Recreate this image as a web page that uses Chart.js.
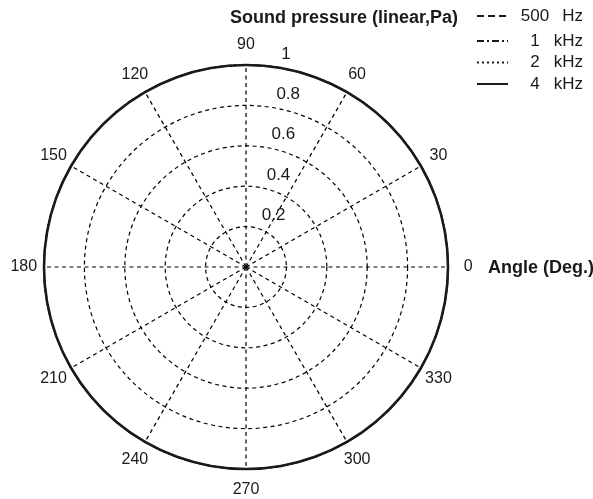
<!DOCTYPE html>
<html>
<head>
<meta charset="utf-8">
<title>Polar pattern</title>
<script src="https://cdn.jsdelivr.net/npm/chart.js@4.4.1/dist/chart.umd.min.js"></script>
<style>
  html, body { margin: 0; padding: 0; background: #fff; }
  #wrap { width: 593px; height: 499px; }
</style>
</head>
<body>
<div id="wrap"><canvas id="polarChart"></canvas></div>
<script>
// measurement angles, degrees counter-clockwise from 0
const angles = [0, 10, 20, 30, 40, 50, 60, 70, 80, 90, 100, 110,
                120, 130, 140, 150, 160, 170, 180, 190, 200, 210, 220, 230,
                240, 250, 260, 270, 280, 290, 300, 310, 320, 330, 340, 350];

// normalised sound pressure at each angle
const p500 = [1, 1, 1, 1, 1, 1, 1, 1, 1, 1, 1, 1, 1, 1, 1, 1, 1, 1,
              1, 1, 1, 1, 1, 1, 1, 1, 1, 1, 1, 1, 1, 1, 1, 1, 1, 1];
const p1k  = [1, 1, 1, 1, 1, 1, 1, 1, 1, 1, 1, 1, 1, 1, 1, 1, 1, 1,
              1, 1, 1, 1, 1, 1, 1, 1, 1, 1, 1, 1, 1, 1, 1, 1, 1, 1];
const p2k  = [1, 1, 1, 1, 1, 1, 1, 1, 1, 1, 1, 1, 1, 1, 1, 1, 1, 1,
              1, 1, 1, 1, 1, 1, 1, 1, 1, 1, 1, 1, 1, 1, 1, 1, 1, 1];
const p4k  = [1, 1, 1, 1, 1, 1, 1, 1, 1, 1, 1, 1, 1, 1, 1, 1, 1, 1,
              1, 1, 1, 1, 1, 1, 1, 1, 1, 1, 1, 1, 1, 1, 1, 1, 1, 1];

const angleTicks = [0, 30, 60, 90, 120, 150, 180, 210, 240, 270, 300, 330];
const radialTicks = [0.2, 0.4, 0.6, 0.8, 1];
const seriesLabels = ['500 Hz', '1 kHz', '2 kHz', '4 kHz'];

const INK = '#1a1a1a';
const FONT = '"Liberation Sans", Arial, sans-serif';

// line style per series: dashed, dash-dot, dotted, solid
const lineStyles = [
    { dash: [7, 4], width: 1.5 },
    { dash: [7, 3, 2, 3], width: 1.5 },
    { dash: [2, 3], width: 1.5 },
    { dash: [], width: 2.6 }
];

// radar scale runs clockwise from its start angle, so flip the order
const clockwise = arr => [arr[0], ...arr.slice(1).reverse()];
const labels = clockwise(angles);

const series = [p500, p1k, p2k, p4k];

const datasets = series.map((values, i) => ({
    label: seriesLabels[i],
    data: clockwise(values),
    borderColor: INK,
    borderWidth: lineStyles[i].width,
    borderDash: lineStyles[i].dash,
    fill: false,
    pointRadius: 0,
    tension: 0.335,
    clip: false,
    order: i === 3 ? 0 : 1
}));

// angle labels, radius labels, axis titles and the legend
const polarText = {
    id: 'polarText',
    afterDraw(chart) {
        const s = chart.scales.r;
        const ctx = chart.ctx;
        ctx.save();
        ctx.fillStyle = INK;

        ctx.font = '16px ' + FONT;
        ctx.textAlign = 'center';
        ctx.textBaseline = 'middle';
        const outer = s.getDistanceFromCenterForValue(1.1);
        angleTicks.forEach(a => {
            const p = s.getPointPosition(labels.indexOf(a), outer);
            ctx.fillText(String(a), p.x, p.y);
        });

        ctx.font = '17px ' + FONT;
        ctx.textAlign = 'left';
        radialTicks.forEach(v => {
            const d = s.getDistanceFromCenterForValue(v);
            ctx.fillText(String(v), s.xCenter + 11 + 0.12 * d, s.yCenter - d - 11);
        });

        ctx.font = 'bold 18px ' + FONT;
        ctx.fillText('Sound pressure (linear,Pa)', 230, 18);
        ctx.fillText('Angle (Deg.)', 488, 268);

        // legend block, top right
        const rowY = [16, 41, 62.5, 84];
        ctx.font = '17px ' + FONT;
        datasets.forEach((ds, i) => {
            const y = rowY[i];
            ctx.save();
            ctx.strokeStyle = INK;
            ctx.lineWidth = 2;
            ctx.setLineDash(ds.borderDash);
            ctx.beginPath();
            ctx.moveTo(477, y);
            ctx.lineTo(508, y);
            ctx.stroke();
            ctx.restore();
            const [num, unit] = ds.label.split(' ');
            ctx.textAlign = 'center';
            ctx.fillText(num, 535, y);
            ctx.textAlign = 'right';
            ctx.fillText(unit, 583, y);
        });
        ctx.restore();
    }
};

new Chart(document.getElementById('polarChart'), {
    type: 'radar',
    data: { labels, datasets },
    options: {
        responsive: true,
        maintainAspectRatio: false,
        animation: false,
        layout: { padding: { left: 44.5, right: 144.5, top: 65.5, bottom: 29.5 } },
        plugins: { legend: { display: false }, tooltip: { enabled: false } },
        scales: {
            r: {
                min: 0,
                max: 1,
                startAngle: 90,
                ticks: { display: false, stepSize: 0.2 },
                pointLabels: { display: false },
                grid: { circular: true, color: '#000', lineWidth: 1.2 },
                border: { dash: [4, 3.5] },
                angleLines: {
                    color: '#000',
                    lineWidth: c => (c.index % 3 === 0 ? 1.2 : 0),
                    borderDash: [4, 3.5]
                }
            }
        }
    },
    plugins: [polarText]
});
</script>
</body>
</html>
